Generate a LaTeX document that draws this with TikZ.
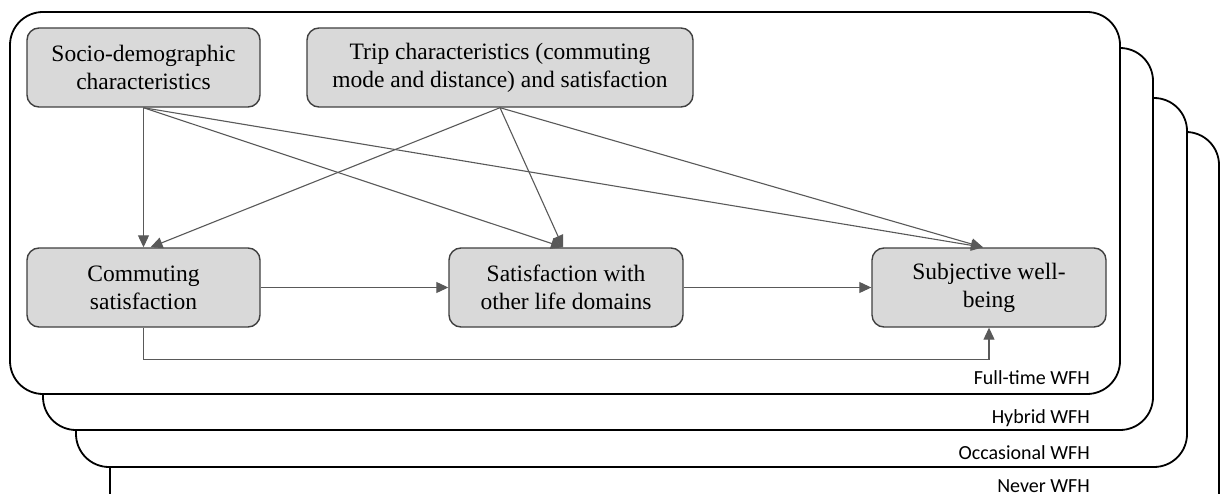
\documentclass[tikz,border=0pt]{standalone}
\usepackage{fontspec}
\setmainfont{Liberation Serif}
\newfontfamily\labelfont{Carlito}
\usetikzlibrary{arrows.meta,calc}

\definecolor{boxfill}{HTML}{D9D9D9}
\definecolor{boxline}{HTML}{404040}
\definecolor{arrowcol}{HTML}{595959}

\tikzset{
  panel/.style={draw=black, line width=1.8pt, fill=white, rounded corners=33pt},
  varbox/.style={draw=boxline, line width=1.4pt, fill=boxfill, rounded corners=12pt,
    minimum height=79pt, inner sep=0pt, align=center,
    font=\fontsize{23.5}{28}\selectfont},
  link/.style={draw=arrowcol, line width=1.1pt,
    -{Triangle[length=12pt,width=11pt]}},
  panellabel/.style={anchor=base east, inner sep=0pt,
    font=\labelfont\fontsize{20}{24}\selectfont}
}

\begin{document}
\begin{tikzpicture}[x=1pt,y=-1pt]
\useasboundingbox (0,0) rectangle (1222,494);
\clip (0,0) rectangle (1222,494);

% stacked scenario panels, back to front
\draw[panel] (110,132) rectangle (1219,530);
\draw[panel] (76,98) rectangle (1187,467);
\draw[panel] (43,48) rectangle (1153,430);
\draw[panel] (10,12) rectangle (1120,394);

\node[panellabel] (lnever) at (1090,492) {Never WFH};
\node[panellabel] (locc) at (1090,459) {Occasional WFH};
\node[panellabel] (lhyb) at (1090,423) {Hybrid WFH};
\node[panellabel] (lfull) at (1090,384) {Full-time WFH};

% model variables
\node[varbox, minimum width=233pt] (socio) at (143.5,67.5)
  {Socio-demographic\\characteristics};
\node[varbox, minimum width=386pt] (trip) at (500,67.5)
  {Trip characteristics (commuting\\mode and distance) and satisfaction};
\node[varbox, minimum width=233pt] (comm) at (143.5,287.5)
  {Commuting\\satisfaction};
\node[varbox, minimum width=234pt] (sat) at (566,287.5)
  {Satisfaction with\\other life domains};
\node[varbox, minimum width=234pt] (subj) at (989,287.5)
  {Subjective well-\\being};

% paths
\draw[link] (socio.south) -- (comm.north);
\draw[link] (socio.south) -- ([xshift=-3pt]sat.north);
\draw[link] (socio.south) -- ([xshift=-6pt]subj.north);
\draw[link] (trip.south) -- ([xshift=7pt]comm.north);
\draw[link] (trip.south) -- ([xshift=-3pt]sat.north);
\draw[link] (trip.south) -- ([xshift=-6pt]subj.north);
\draw[link] (comm.east) -- (sat.west);
\draw[link] (sat.east) -- (subj.west);
\draw[link] (comm.south) -- ++(0,32) -| (subj.south);
\end{tikzpicture}
\end{document}
